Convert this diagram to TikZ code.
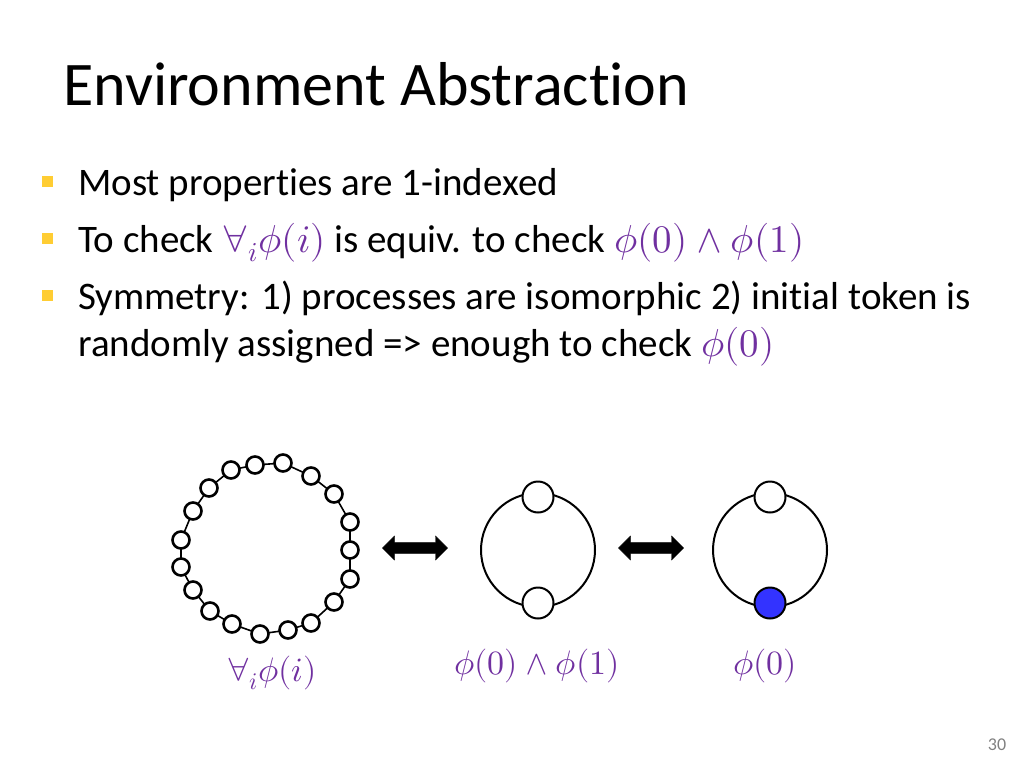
\documentclass[tikz,border=0pt]{standalone}
\usepackage{fontspec}
\usepackage{unicode-math}
\setmainfont[RawFeature=-liga]{Carlito}
\setmathfont{Latin Modern Math}
\usetikzlibrary{shapes.arrows}
\definecolor{mpurple}{HTML}{7030A0}
\definecolor{byel}{HTML}{FFC000}
\newcommand{\mth}[1]{\textcolor{mpurple}{$#1$}}
\tikzset{
 bul/.style={fill=byel!80,minimum size=11pt,inner sep=0pt},
 txt/.style={anchor=base west,font=\fontsize{39}{46}\selectfont,inner sep=0pt},
 sm/.style={circle,draw,line width=2.6pt,fill=white,minimum size=17pt,inner sep=0pt},
 big/.style={circle,draw,line width=2pt,fill=white,minimum size=31pt,inner sep=0pt},
 ring/.style={draw,line width=1.6pt},
 dbl/.style={double arrow,fill=black,draw,minimum height=65pt,minimum width=24pt,double arrow head extend=4pt,inner sep=3pt},
 lab/.style={font=\fontsize{34}{40}\selectfont,text=mpurple}
}
\begin{document}
\begin{tikzpicture}[x=1pt,y=-1pt]
\useasboundingbox (0,0) rectangle (1024,768);
\node[anchor=base west,inner sep=0pt,font=\fontsize{62}{70}\selectfont] (title) at (63,105) {Environment Abstraction};
\node[bul] (b1) at (47,181) {};
\node[txt] (t1) at (78,195) {Most properties are 1-indexed};
\node[bul] (b2) at (47,238) {};
\node[txt] (t2) at (78,252) {To check \mth{\forall_i\phi(i)} is equiv. to check \mth{\phi(0)\wedge\phi(1)}};
\node[bul] (b3) at (47,295) {};
\node[txt] (t3) at (78,309) {Symmetry: 1) processes are isomorphic 2) initial token is};
\node[txt] (t4) at (78,356) {randomly assigned => enough to check \mth{\phi(0)}};
% ring
\draw[ring] (283,463) coordinate(p1)
 \foreach \p in {(311,476),(334,494),(350,522),(350,550),(350,579),(334,602),(311,623),(288,630),(260,634),(232,624),(210,611),(193,590),(181,567),(181,540),(193,511),(209,488),(231,470),(255,465)} { -- \p } -- cycle;
\foreach \p [count=\i] in {(283,463),(311,476),(334,494),(350,522),(350,550),(350,579),(334,602),(311,623),(288,630),(260,634),(232,624),(210,611),(193,590),(181,567),(181,540),(193,511),(209,488),(231,470),(255,465)} \node[sm] (r\i) at \p {};
\node[dbl] (a1) at (415,548) {};
\node[dbl] (a2) at (651,548) {};
\node[circle,draw,line width=2pt,minimum size=114pt,inner sep=0pt] (c2) at (538,550) {};
\node[big] (m1) at (538,497) {};
\node[big] (m2) at (538,603) {};
\node[circle,draw,line width=2pt,minimum size=114pt,inner sep=0pt] (c3) at (770,550) {};
\node[big] (n1) at (770,497) {};
\node[big,fill={rgb,255:red,51;green,51;blue,255}] (n2) at (770,603) {};
\node[lab] (l1) at (272,673) {$\forall_i\phi(i)$};
\node[lab] (l2) at (537,666) {$\phi(0)\wedge\phi(1)$};
\node[lab] (l3) at (765,666) {$\phi(0)$};
\node[text=gray,font=\fontsize{18}{20}\selectfont] (pg) at (997,745) {30};
\end{tikzpicture}
\end{document}
